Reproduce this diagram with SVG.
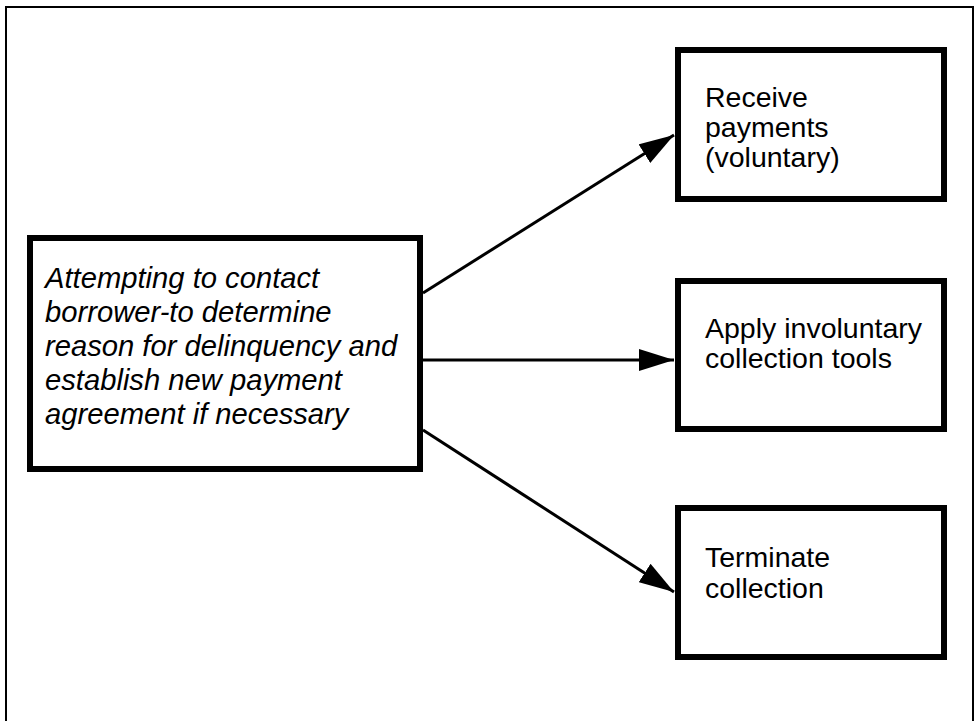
<svg xmlns="http://www.w3.org/2000/svg" width="978" height="721" viewBox="0 0 978 721">
  <style>
    .frame { fill: none; stroke: #000; stroke-width: 2; }
    .box { fill: #fff; stroke: #000; stroke-width: 6; }
    .lbl { font-family: "Liberation Sans", Arial, Helvetica, sans-serif; font-size: 28.5px; fill: #000; }
    .it { font-style: italic; font-size: 29.2px; }
    .conn { stroke: #000; stroke-width: 3; fill: none; }
  </style>
  <defs>
    <marker id="ah" markerUnits="userSpaceOnUse" markerWidth="36" markerHeight="22" refX="35" refY="11" orient="auto">
      <path d="M0,0 L35,11 L0,22 Z" fill="#000"/>
    </marker>
  </defs>
  <rect width="978" height="721" fill="#fff"/>
  <rect class="frame" x="6" y="7" width="967" height="730"/>

  <g id="connectors">
    <line class="conn" x1="423" y1="293" x2="674" y2="135" marker-end="url(#ah)"/>
    <line class="conn" x1="423" y1="360" x2="674" y2="360" marker-end="url(#ah)"/>
    <line class="conn" x1="423" y1="430" x2="674" y2="592" marker-end="url(#ah)"/>
  </g>

  <g id="attempt">
    <rect class="box" x="30" y="238" width="390" height="231"/>
    <text class="lbl it"><tspan x="45" y="288">Attempting to contact</tspan><tspan x="45" y="322">borrower-to determine</tspan><tspan x="45" y="356">reason for delinquency and</tspan><tspan x="45" y="390">establish new payment</tspan><tspan x="45" y="424">agreement if necessary</tspan></text>
  </g>

  <g id="receive">
    <rect class="box" x="678" y="50" width="266" height="149"/>
    <text class="lbl"><tspan x="705" y="107">Receive</tspan><tspan x="705" y="137">payments</tspan><tspan x="705" y="167">(voluntary)</tspan></text>
  </g>

  <g id="apply">
    <rect class="box" x="678" y="281" width="266" height="148"/>
    <text class="lbl"><tspan x="705" y="338">Apply involuntary</tspan><tspan x="705" y="368">collection tools</tspan></text>
  </g>

  <g id="terminate">
    <rect class="box" x="678" y="508" width="266" height="149"/>
    <text class="lbl"><tspan x="705" y="567">Terminate</tspan><tspan x="705" y="598">collection</tspan></text>
  </g>
</svg>
